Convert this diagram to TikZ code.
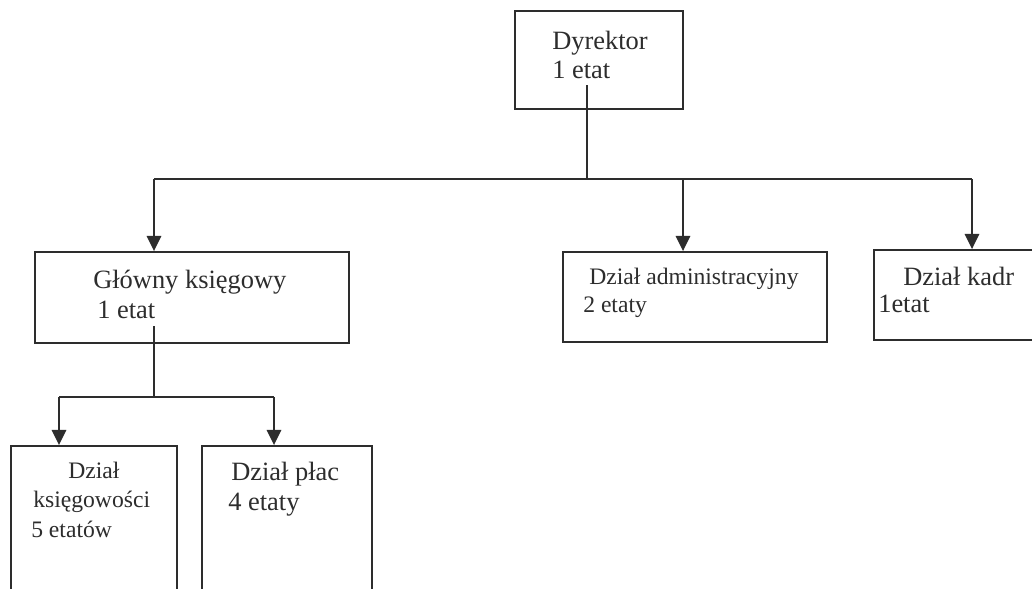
\documentclass[tikz,border=0pt]{standalone}
\usepackage{fontspec}
\setmainfont{Liberation Serif}
\usetikzlibrary{arrows.meta}
\usetikzlibrary{positioning}

\definecolor{ink}{RGB}{45,45,45}

\tikzset{
	box/.style={draw=ink, rectangle, line width=1.3pt, inner sep=0pt},
	txt/.style={anchor=base west, inner sep=0pt, text=ink, font=\fontsize{18.8}{22}\selectfont},
	txtsmall/.style={txt, font=\fontsize{16.8}{20}\selectfont},
	link/.style={draw=ink, line width=1.3pt},
	arr/.style={link, -{Triangle[length=0.38cm, width=0.36cm]}}
}

\begin{document}
\begin{tikzpicture}[x=0.025cm, y=-0.025cm]
	
	\clip (0, 0) rectangle (1032, 588);
	\fill [white] (0, 0) rectangle (1032, 588);
	
	\node [box, minimum width=4.2cm, minimum height=2.45cm] at (599, 60) (dyrektor){};
	\node [txt] at (552, 49) (dyrektor_t1){Dyrektor};
	\node [txt] at (552, 78) (dyrektor_t2){1 etat};
	
	\node [box, minimum width=7.85cm, minimum height=2.275cm] at (192, 297.5) (glowny){};
	\node [txt] at (93, 288) (glowny_t1){Główny księgowy};
	\node [txt] at (97, 318) (glowny_t2){1 etat};
	
	\node [box, minimum width=6.6cm, minimum height=2.25cm] at (695, 297) (admin){};
	\node [txtsmall] at (589, 284) (admin_t1){Dział administracyjny};
	\node [txtsmall] at (583, 312) (admin_t2){2 etaty};
	
	\node [box, minimum width=4.3cm, minimum height=2.25cm] at (960, 295) (kadr){};
	\node [txt] at (903, 285) (kadr_t1){Dział kadr};
	\node [txt] at (878, 312) (kadr_t2){1etat};
	
	\node [box, minimum width=4.15cm, minimum height=4.35cm] at (94, 533) (ksieg){};
	\node [txtsmall] at (68, 478) (ksieg_t1){Dział};
	\node [txtsmall] at (33, 507) (ksieg_t2){księgowości};
	\node [txtsmall] at (31, 537) (ksieg_t3){5 etatów};
	
	\node [box, minimum width=4.25cm, minimum height=4.35cm] at (287, 533) (place){};
	\node [txt] at (231, 480) (place_t1){Dział płac};
	\node [txt] at (228, 510) (place_t2){4 etaty};
	
	% connector coordinates
	\coordinate (dyrektor_out) at (587, 85);
	\coordinate (bus1) at (587, 179);
	\coordinate (bus1_left) at (154, 179);
	\coordinate (bus1_mid) at (683, 179);
	\coordinate (bus1_right) at (972, 179);
	
	\coordinate (glowny_out) at (154, 326);
	\coordinate (bus2) at (154, 397);
	\coordinate (bus2_left) at (59, 397);
	\coordinate (bus2_right) at (274, 397);
	
	\draw [link] (dyrektor_out) -- (bus1);
	\draw [link] (bus1_left) -- (bus1_right);
	\draw [arr] (bus1_left) -- (bus1_left |- glowny.north);
	\draw [arr] (bus1_mid) -- (bus1_mid |- admin.north);
	\draw [arr] (bus1_right) -- (bus1_right |- kadr.north);
	
	\draw [link] (glowny_out) -- (bus2);
	\draw [link] (bus2_left) -- (bus2_right);
	\draw [arr] (bus2_left) -- (bus2_left |- ksieg.north);
	\draw [arr] (bus2_right) -- (bus2_right |- place.north);
	
\end{tikzpicture}
\end{document}
